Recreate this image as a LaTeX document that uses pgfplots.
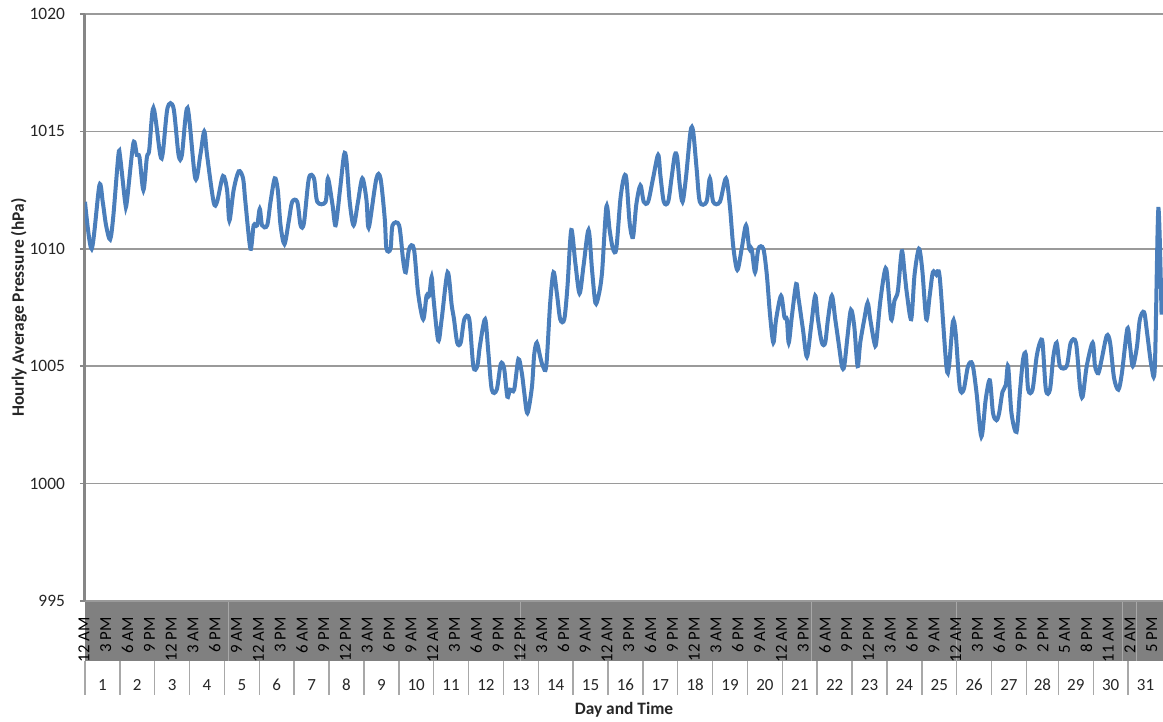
\documentclass[border=0pt]{standalone}
\usepackage{pgfplots}
\pgfplotsset{compat=1.18}
\usepackage{fontspec}
\setmainfont{Carlito}
\definecolor{pline}{HTML}{4A7EBB}
\definecolor{gridc}{HTML}{9A9A9A}
\definecolor{bandc}{HTML}{808080}
\definecolor{sepc}{HTML}{A8A8A8}
\definecolor{axc}{HTML}{868686}
\definecolor{txt}{HTML}{262626}
\begin{document}
\begin{tikzpicture}
\path[use as bounding box] (-42.5pt,-60.5pt) rectangle (539pt,300.5pt);
% grey band under the time labels
\fill[bandc] (0,0) rectangle (539pt,-30pt);
\foreach \b in {99,300,500,600,714,724}
  \draw[sepc, line width=0.6pt] ({\b/742*539pt},0) -- ({\b/742*539pt},-30pt);
% day boxes
\foreach \b in {0,24,48,72,96,120,144,168,192,216,240,264,288,312,336,360,384,408,432,456,480,504,528,552,576,600,624,648,670,694,718}
  \draw[sepc, line width=0.75pt] ({\b/742*539pt},-30pt) -- ({\b/742*539pt},-47pt);
\foreach \d in {1,...,27}
  \node[font=\fontsize{8.5pt}{10pt}\selectfont, text=txt] at ({(24*\d-12)/742*539pt},-42pt) {\d};
\foreach \d/\c in {28/659,29/682,30/706,31/730}
  \node[font=\fontsize{8.5pt}{10pt}\selectfont, text=txt] at ({\c/742*539pt},-42pt) {\d};
\begin{axis}[
  at={(0,0)}, anchor=south west,
  width=539pt, height=293.5pt, scale only axis,
  xmin=0, xmax=742, ymin=995, ymax=1020,
  axis lines*=left,
  x axis line style={draw=none},
  y axis line style={draw=axc, line width=1.5pt},
  ytick={995,1000,1005,1010,1015,1020},
  ymajorgrids, grid style={gridc, line width=0.75pt},
  tick align=outside,
  ytick style={draw=axc, line width=0.75pt},
  major tick length=2.5pt,
  yticklabel style={font=\fontsize{8.7pt}{10pt}\selectfont, text=txt, xshift=-4pt},
  /pgf/number format/assume math mode=true,
  /pgf/number format/set thousands separator={},
  xtick={0,15,...,735},
  xtick style={draw=none},
  xticklabels={12 AM,3 PM,6 AM,9 PM,12 PM,3 AM,6 PM,9 AM,
               12 AM,3 PM,6 AM,9 PM,12 PM,3 AM,6 PM,9 AM,
               12 AM,3 PM,6 AM,9 PM,12 PM,3 AM,6 PM,9 AM,
               12 AM,3 PM,6 AM,9 PM,12 PM,3 AM,6 PM,9 AM,
               12 AM,3 PM,6 AM,9 PM,12 PM,3 AM,6 PM,9 AM,
               12 AM,3 PM,6 AM,9 PM,2 PM,5 AM,8 PM,11 AM,2 AM,5 PM},
  xticklabel style={rotate=90, anchor=east, font=\fontsize{8.4pt}{10pt}\selectfont, text=black, xshift=-5.5pt, yshift=0.5pt, inner sep=0pt},
  xlabel={Day and Time},
  xlabel style={at={(axis description cs:0.5,0)}, anchor=center, yshift=-54.5pt, font=\bfseries\fontsize{8.7pt}{10pt}\selectfont, text=txt},
  ylabel={Hourly Average Pressure (hPa)},
  ylabel style={at={(axis description cs:0,0.5)}, anchor=center, yshift=33pt, font=\bfseries\fontsize{8.7pt}{10pt}\selectfont, text=txt},
]
\addplot[pline, line width=2pt, smooth, tension=0.5] table {
x y
0 1012.0
4.6 1010.0
9.9 1012.7
12.2 1012.0
14.5 1011.0
17.3 1010.4
19.5 1011.4
23.0 1014.0
24.2 1013.9
27.6 1012.0
28.8 1012.0
33.3 1014.5
35.7 1014.0
37.5 1013.9
40.2 1012.5
42.6 1013.9
44.2 1014.2
47.1 1016.0
51.8 1014.0
53.6 1014.1
56.8 1016.0
60.9 1016.0
64.4 1014.0
66.7 1014.0
70.6 1016.0
75.9 1013.0
79.4 1014.0
82.1 1015.0
84.0 1014.0
88.5 1012.0
90.9 1012.0
95.0 1013.1
97.8 1012.5
99.4 1011.2
102.3 1012.5
105.8 1013.3
108.8 1013.0
110.4 1012.0
113.9 1010.0
116.1 1011.0
118.5 1011.0
120.3 1011.7
121.9 1011.0
125.4 1011.0
127.7 1012.0
130.6 1013.0
132.7 1012.5
134.6 1011.0
137.3 1010.2
140.3 1011.2
142.6 1012.0
146.1 1012.0
148.4 1011.0
150.7 1011.1
154.1 1013.0
157.6 1013.0
159.9 1012.0
165.6 1012.0
167.2 1013.0
170.3 1011.9
172.5 1011.0
175.5 1012.5
178.3 1014.0
179.9 1013.8
182.2 1012.0
184.9 1011.0
187.9 1012.0
190.9 1013.0
193.7 1012.1
194.8 1011.0
196.0 1011.1
200.6 1013.0
203.4 1013.0
206.3 1011.3
207.5 1010.0
210.3 1010.0
211.7 1011.0
216.2 1011.0
219.0 1009.5
220.8 1009.0
223.1 1010.0
226.4 1010.0
229.3 1008.1
232.8 1007.0
235.1 1008.0
236.9 1008.0
238.6 1008.8
239.7 1008.0
243.1 1006.1
245.5 1007.0
249.6 1009.0
252.4 1007.6
254.0 1007.0
256.2 1006.0
258.6 1006.0
261.1 1007.0
264.5 1007.0
267.3 1005.0
270.0 1005.0
271.9 1005.9
275.4 1007.0
277.6 1005.6
280.0 1004.0
283.4 1004.0
286.2 1005.1
288.5 1004.9
290.7 1003.7
292.6 1004.0
295.4 1004.0
298.3 1005.3
300.7 1004.7
302.3 1003.9
304.5 1003.0
307.6 1004.1
309.2 1005.5
311.0 1006.0
313.3 1005.4
315.2 1005.0
317.5 1005.0
320.2 1007.7
322.5 1009.0
324.8 1008.1
327.1 1007.0
329.9 1007.0
332.1 1008.4
334.7 1010.8
337.5 1009.4
340.4 1008.1
343.2 1009.3
346.6 1010.8
349.0 1009.1
351.3 1007.7
353.5 1008.0
355.9 1009.0
358.9 1011.8
361.1 1010.8
363.4 1010.0
365.7 1010.0
368.5 1012.1
370.8 1013.0
372.6 1013.0
374.9 1011.1
377.2 1010.5
379.5 1011.9
382.3 1012.7
384.6 1012.0
387.6 1012.0
391.0 1013.0
394.5 1014.0
396.1 1013.1
398.4 1012.0
401.4 1012.0
403.7 1013.0
406.0 1014.0
407.6 1013.9
409.4 1012.7
411.3 1012.0
413.6 1013.0
416.8 1015.0
418.6 1015.0
421.0 1013.4
423.2 1012.0
427.8 1012.0
430.1 1013.0
432.4 1012.0
437.0 1012.0
441.2 1013.0
443.9 1011.8
446.2 1010.1
449.0 1009.1
452.0 1010.0
455.0 1011.0
457.2 1010.0
458.9 1010.0
461.2 1009.0
463.5 1010.0
466.9 1010.0
469.3 1008.9
471.5 1007.2
473.8 1006.0
475.7 1007.0
479.1 1008.0
481.4 1007.1
483.1 1007.0
484.4 1006.0
486.5 1007.1
489.5 1008.5
491.1 1007.9
494.1 1006.6
496.9 1005.4
499.8 1006.7
502.6 1008.0
504.5 1007.0
507.2 1006.0
509.5 1006.0
511.4 1007.0
514.1 1008.0
516.4 1007.0
518.7 1006.0
521.0 1005.0
522.6 1005.0
524.9 1006.3
527.2 1007.4
529.5 1006.7
531.8 1005.0
533.6 1006.0
536.4 1007.0
538.7 1007.7
540.5 1007.0
543.3 1006.0
544.6 1006.0
547.3 1007.7
550.3 1009.0
551.9 1009.0
554.9 1007.0
557.2 1007.8
559.5 1008.2
562.2 1009.9
564.1 1009.0
565.7 1008.1
568.7 1007.0
571.0 1008.9
574.0 1010.0
576.3 1009.1
579.1 1007.0
581.4 1008.0
583.6 1009.0
586.0 1008.9
588.3 1008.8
592.9 1005.0
594.7 1005.0
597.4 1006.9
599.3 1006.4
602.1 1004.1
604.8 1004.0
607.8 1005.0
610.8 1005.1
613.6 1003.9
617.0 1002.0
620.0 1003.6
622.8 1004.4
625.0 1003.0
627.4 1002.7
629.2 1003.0
631.5 1003.9
633.8 1004.2
635.4 1005.0
637.7 1003.0
641.2 1002.2
643.5 1003.9
645.7 1005.3
647.6 1005.5
649.2 1004.0
652.2 1004.0
655.0 1005.4
657.3 1006.0
659.1 1006.0
661.4 1004.0
664.2 1004.0
666.5 1005.4
668.8 1006.0
671.1 1005.0
675.7 1005.0
678.5 1006.0
682.1 1006.0
684.9 1004.1
686.7 1003.7
689.5 1005.0
693.6 1006.0
695.2 1005.0
697.5 1004.7
699.8 1005.3
703.3 1006.3
705.6 1006.0
708.3 1004.5
711.3 1004.0
713.7 1004.7
717.5 1006.6
719.4 1005.8
721.2 1005.0
724.0 1005.8
726.1 1007.0
729.0 1007.3
731.1 1006.4
734.1 1005.0
736.4 1005.0
738.8 1011.7
741.0 1007.2
};
\end{axis}
\end{tikzpicture}
\end{document}
